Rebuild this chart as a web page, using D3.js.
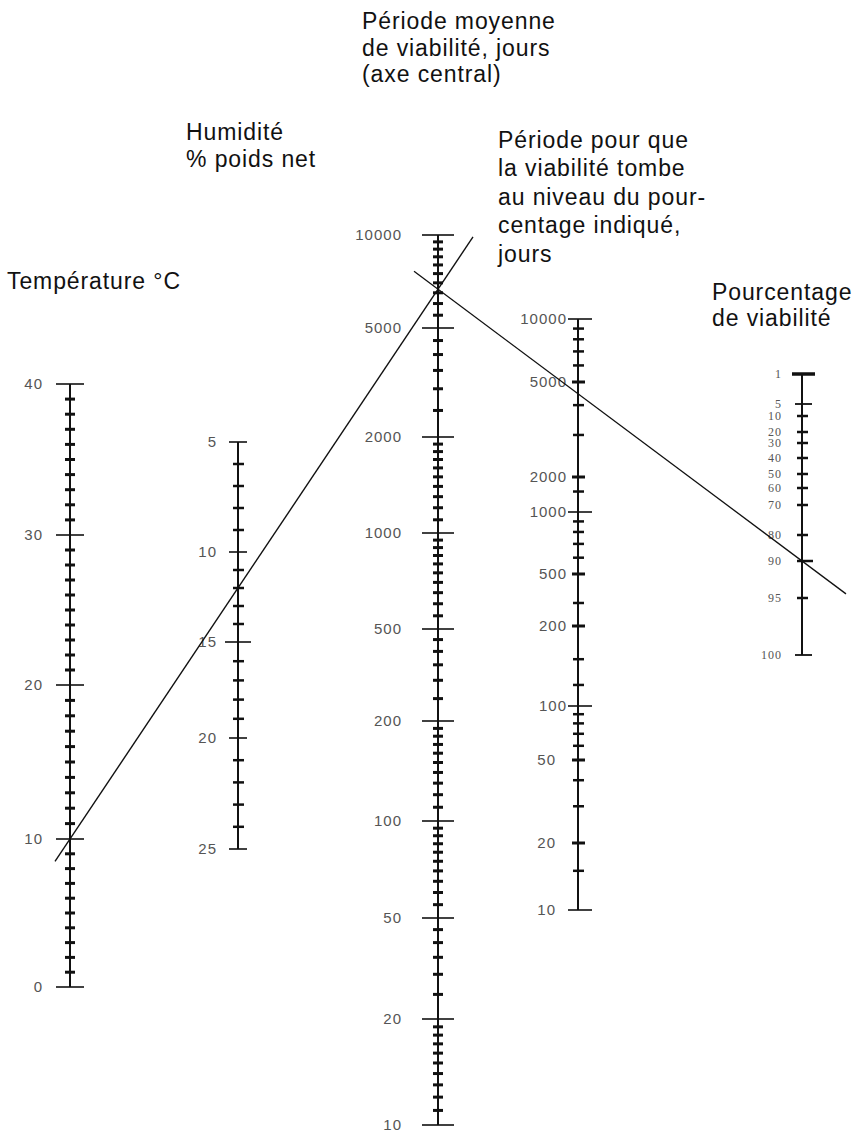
<!DOCTYPE html>
<html>
<head>
<meta charset="utf-8">
<script src="https://cdn.jsdelivr.net/npm/d3@7"></script>
<style>
  body { margin: 0; background: #fff; }
</style>
</head>
<body>
<div id="chart"></div>
<script>
// scale values
const temperatures = [0, 10, 20, 30, 40]
const humidities = [5, 10, 15, 20, 25]
const meanPeriods = [10, 20, 50, 100, 200, 500, 1000, 2000, 5000, 10000]
const periods = [10, 20, 50, 100, 200, 500, 1000, 2000, 5000, 10000]
const percentages = [1, 5, 10, 20, 30, 40, 50, 60, 70, 80, 90, 95, 100]

// minor ticks
const periodMinor = [9000, 8000, 7000, 6000, 4000, 3000, 1500, 900, 800, 700, 600, 300, 150, 120, 90, 80, 70, 60, 40, 30, 15]
const meanMinorSteps = [[10, 20, 1], [20, 50, 5], [50, 100, 5], [100, 200, 10], [200, 500, 50],
                        [500, 1000, 50], [1000, 2000, 100], [2000, 5000, 500], [5000, 10000, 500]]

// example reading drawn on the chart
const readTemperature = 10
const readHumidity = 12
const readPercentage = 90

// titles
const titleMean = ["Période moyenne", "de viabilité, jours", "(axe central)"]
const titleHumidity = ["Humidité", "% poids net"]
const titleTemperature = ["Température °C"]
const titlePeriod = ["Période pour que", "la viabilité tombe", "au niveau du pour-", "centage indiqué,", "jours"]
const titlePercentage = ["Pourcentage", "de viabilité"]

// layout
const width = 863
const height = 1141
const xTemp = 70, xHum = 238, xMean = 438, xPeriod = 578, xPct = 802
const ink = "#111"
const grey = "#555"
const sans = "'Liberation Sans', Arial, Helvetica, sans-serif"
const serif = "'Liberation Serif', 'Times New Roman', serif"

const svg = d3.select("#chart")
    .append("svg")
      .attr("width", width)
      .attr("height", height)

// scales (piecewise, the printed scales are not regular)
const yTemp = d3.scaleLinear().domain(temperatures).range([987, 839, 685, 535, 384])
const yHum = d3.scaleLinear().domain(humidities).range([442, 552, 642, 738, 849])
const yMean = d3.scaleLog().domain(meanPeriods).range([1125, 1019, 918, 821, 721, 629, 533, 437, 328, 235])
const yPeriod = d3.scaleLog().domain(periods).range([910, 843, 760, 706, 626, 574, 512, 477, 382, 319])
const yPct = d3.scaleLinear().domain(percentages).range([374, 404, 416, 432, 443, 458, 474, 488, 505, 535, 561, 598, 655])

function axisLine(x, scale) {
    const dom = scale.domain()
    svg.append("line")
        .attr("x1", x).attr("x2", x)
        .attr("y1", scale(d3.min(dom))).attr("y2", scale(d3.max(dom)))
        .attr("stroke", ink).attr("stroke-width", 2)
}

function ticks(x, scale, values, left, right, w) {
    svg.append("g").selectAll("line")
        .data(values)
        .join("line")
          .attr("x1", d => x - (typeof left == "function" ? left(d) : left))
          .attr("x2", d => x + (typeof right == "function" ? right(d) : right))
          .attr("y1", d => scale(d))
          .attr("y2", d => scale(d))
          .attr("stroke", ink)
          .attr("stroke-width", w)
}

function labels(xEnd, scale, values, font, size, spacing) {
    svg.append("g").selectAll("text")
        .data(values)
        .join("text")
          .attr("x", d => typeof xEnd == "function" ? xEnd(d) : xEnd)
          .attr("y", d => scale(d))
          .attr("dy", "0.36em")
          .attr("text-anchor", "end")
          .attr("font-family", font)
          .attr("font-size", size)
          .attr("letter-spacing", spacing)
          .attr("fill", grey)
          .text(d => d)
}

function title(lines, x, y, pitch) {
    svg.append("g").selectAll("text")
        .data(lines)
        .join("text")
          .attr("x", x)
          .attr("y", (d, i) => y + i * pitch)
          .attr("font-family", sans)
          .attr("font-size", 23)
          .attr("letter-spacing", 0.9)
          .attr("fill", ink)
          .text(d => d)
}

// temperature
axisLine(xTemp, yTemp)
ticks(xTemp, yTemp, d3.range(1, 40).filter(d => d % 10), 5, 5, 3)
ticks(xTemp, yTemp, temperatures, 14, 14, 1.6)
labels(xTemp - 27, yTemp, temperatures, sans, 15, 1)

// humidity
axisLine(xHum, yHum)
ticks(xHum, yHum, d3.range(6, 25).filter(d => d % 5), 5, 6, 2.5)
ticks(xHum, yHum, humidities, d => d == 15 ? 13 : 9, d => d == 15 ? 13 : 9, 1.6)
labels(xHum - 21, yHum, humidities, sans, 15, 1)

// central axis
const meanMinor = meanMinorSteps.flatMap(([a, b, s]) => d3.range(a + s, b, s))
axisLine(xMean, yMean)
ticks(xMean, yMean, meanMinor, 5, 5, 3)
ticks(xMean, yMean, meanPeriods, 16, 16, 1.6)
labels(xMean - 36, yMean, meanPeriods, sans, 15, 1)

// period axis
const isDecade = d => Math.log10(d) % 1 == 0
axisLine(xPeriod, yPeriod)
ticks(xPeriod, yPeriod, periodMinor, 5, 6, 2.5)
ticks(xPeriod, yPeriod, periods.filter(d => !isDecade(d)), 6, 7, 3)
ticks(xPeriod, yPeriod, periods.filter(isDecade), 10, 14, 1.6)
labels(d => d < 100 ? xPeriod - 22 : xPeriod - 11, yPeriod, periods, sans, 15, 1)

// percentage axis
axisLine(xPct, yPct)
ticks(xPct, yPct, percentages.filter(d => ![1, 5, 90, 100].includes(d)), 5, 6, 2.5)
ticks(xPct, yPct, [5, 100], 7, 10, 1.8)
ticks(xPct, yPct, [90], 5, 11, 2.5)
ticks(xPct, yPct, [1], 10, 13, 3.5)
labels(xPct - 20, yPct, percentages, serif, 12, 1)

// reading lines
const pT = [xTemp, yTemp(readTemperature)]
const pH = [xHum, yHum(readHumidity)]
const slope1 = (pH[1] - pT[1]) / (pH[0] - pT[0])
const onLine1 = x => pT[1] + slope1 * (x - pT[0])
const pM = [xMean, onLine1(xMean)]
const pP = [xPct, yPct(readPercentage)]
const slope2 = (pP[1] - pM[1]) / (pP[0] - pM[0])
const onLine2 = x => pM[1] + slope2 * (x - pM[0])

const line = d3.line()
svg.append("path")
    .attr("d", line([55, 473].map(x => [x, onLine1(x)])))
    .attr("fill", "none").attr("stroke", ink).attr("stroke-width", 1.4)
svg.append("path")
    .attr("d", line([414, 846].map(x => [x, onLine2(x)])))
    .attr("fill", "none").attr("stroke", ink).attr("stroke-width", 1.3)

// titles
title(titleMean, 362, 29, 26.5)
title(titleHumidity, 186, 140, 27)
title(titleTemperature, 7, 289, 27)
title(titlePeriod, 498, 148, 28.4)
title(titlePercentage, 712, 300, 26)
</script>
</body>
</html>
